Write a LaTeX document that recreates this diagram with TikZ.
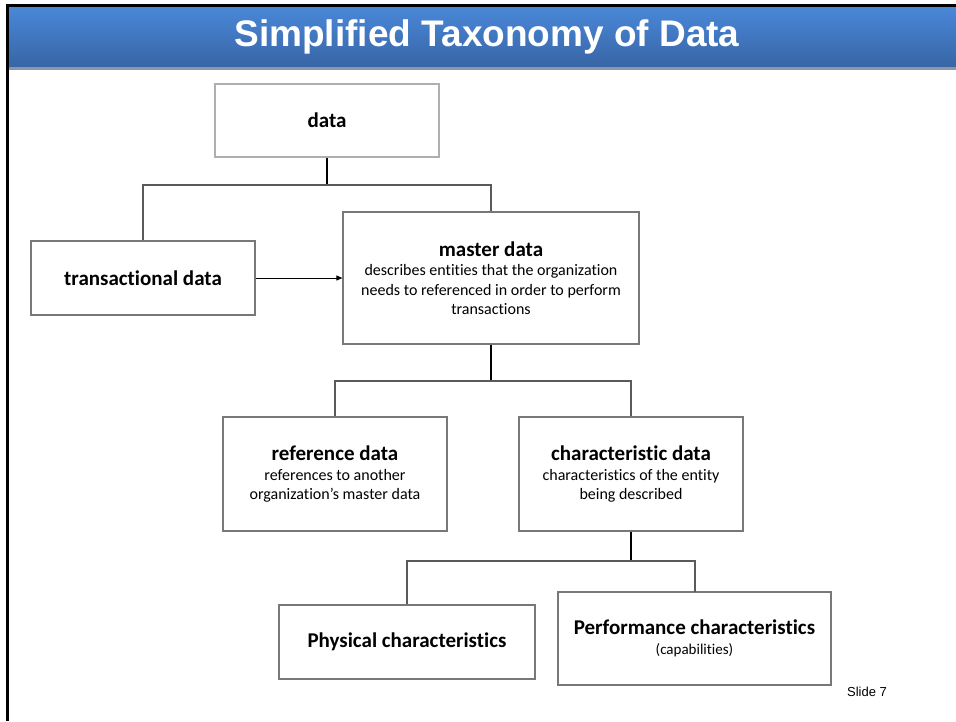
\documentclass[tikz,border=0pt]{standalone}
\usepackage{fontspec}
\setmainfont{Carlito}[Ligatures={NoCommon}]
\newfontfamily\arialfont{Liberation Sans}
\usetikzlibrary{arrows.meta}
\definecolor{boxgray}{RGB}{120,120,120}
\definecolor{lightbox}{RGB}{175,175,175}
\definecolor{linegray}{RGB}{90,90,90}
\definecolor{bartop}{RGB}{74,136,217}
\definecolor{barbot}{RGB}{56,101,165}
\definecolor{shadowgray}{RGB}{140,150,165}
\newcommand\boxhead{\fontsize{21}{21}\selectfont\bfseries}
\newcommand\boxbody{\fontsize{16}{19.5}\selectfont}
\begin{document}
\begin{tikzpicture}[x=1pt,y=-1pt,
  box/.style={draw=boxgray, line width=1.2pt, fill=white, align=center, inner sep=0pt, font=\boxbody},
  conn/.style={draw=linegray, line width=1.2pt},
  trunk/.style={draw=black, line width=1.6pt},
  arr/.style={draw=black, line width=1pt, -{Triangle[length=6pt,width=5pt]}}]
\useasboundingbox (0,0) rectangle (956,721);
\fill[white] (0,0) rectangle (956,721);
% frame and title bar
\shade[top color=bartop, bottom color=barbot] (9,6) rectangle (956,67);
\fill[shadowgray] (9,67) rectangle (956,70);
\fill[black] (6,4) rectangle (956,6.5);
\fill[black] (6,4) rectangle (9,721);
\node[font=\arialfont\fontsize{37}{37}\selectfont\bfseries, text=white] (title) at (487,37) {Simplified Taxonomy of Data};

% boxes
\node[box, draw=lightbox, minimum width=224, minimum height=73] (data) at (327,120.5) {\boxhead data};
\node[box, minimum width=224, minimum height=74] (trans) at (143,278) {\boxhead transactional data};
\node[box, minimum width=296, minimum height=132] (master) at (491,278)
  {{\boxhead master data}\\describes entities that the organization\\needs to referenced in order to perform\\transactions};
\node[box, minimum width=224, minimum height=114] (ref) at (335,474)
  {{\boxhead reference data}\\references to another\\organization’s master data};
\node[box, minimum width=224, minimum height=114] (char) at (631,474)
  {{\boxhead characteristic data}\\characteristics of the entity\\being described};
\node[box, minimum width=256, minimum height=74] (phys) at (407,642) {\boxhead Physical characteristics};
\node[box, minimum width=273, minimum height=93] (perf) at (694.5,638.5)
  {{\boxhead Performance characteristics}\\{\fontsize{15}{17}\selectfont (capabilities)}};
\node[font=\arialfont\fontsize{13}{13}\selectfont, anchor=center] (slide) at (867,692) {Slide 7};

% connectors
\coordinate (j1) at (327,185);
\coordinate (j1l) at (143,185);
\coordinate (j1r) at (491,185);
\draw[trunk] (data.south) -- (j1);
\draw[conn] (trans.north) -- (j1l) -- (j1r) -- (master.north);
\draw[arr] (trans.east) -- (master.west);

\coordinate (j2) at (491,381);
\coordinate (j2l) at (335,381);
\coordinate (j2r) at (631,381);
\draw[trunk] (master.south) -- (j2);
\draw[conn] (ref.north) -- (j2l) -- (j2r) -- (char.north);

\coordinate (j3) at (631,561);
\coordinate (j3l) at (407,561);
\coordinate (j3r) at (695,561);
\coordinate (perftop) at (695,592);
\draw[trunk] (char.south) -- (j3);
\draw[conn] (phys.north) -- (j3l) -- (j3r) -- (perftop);
\end{tikzpicture}
\end{document}
